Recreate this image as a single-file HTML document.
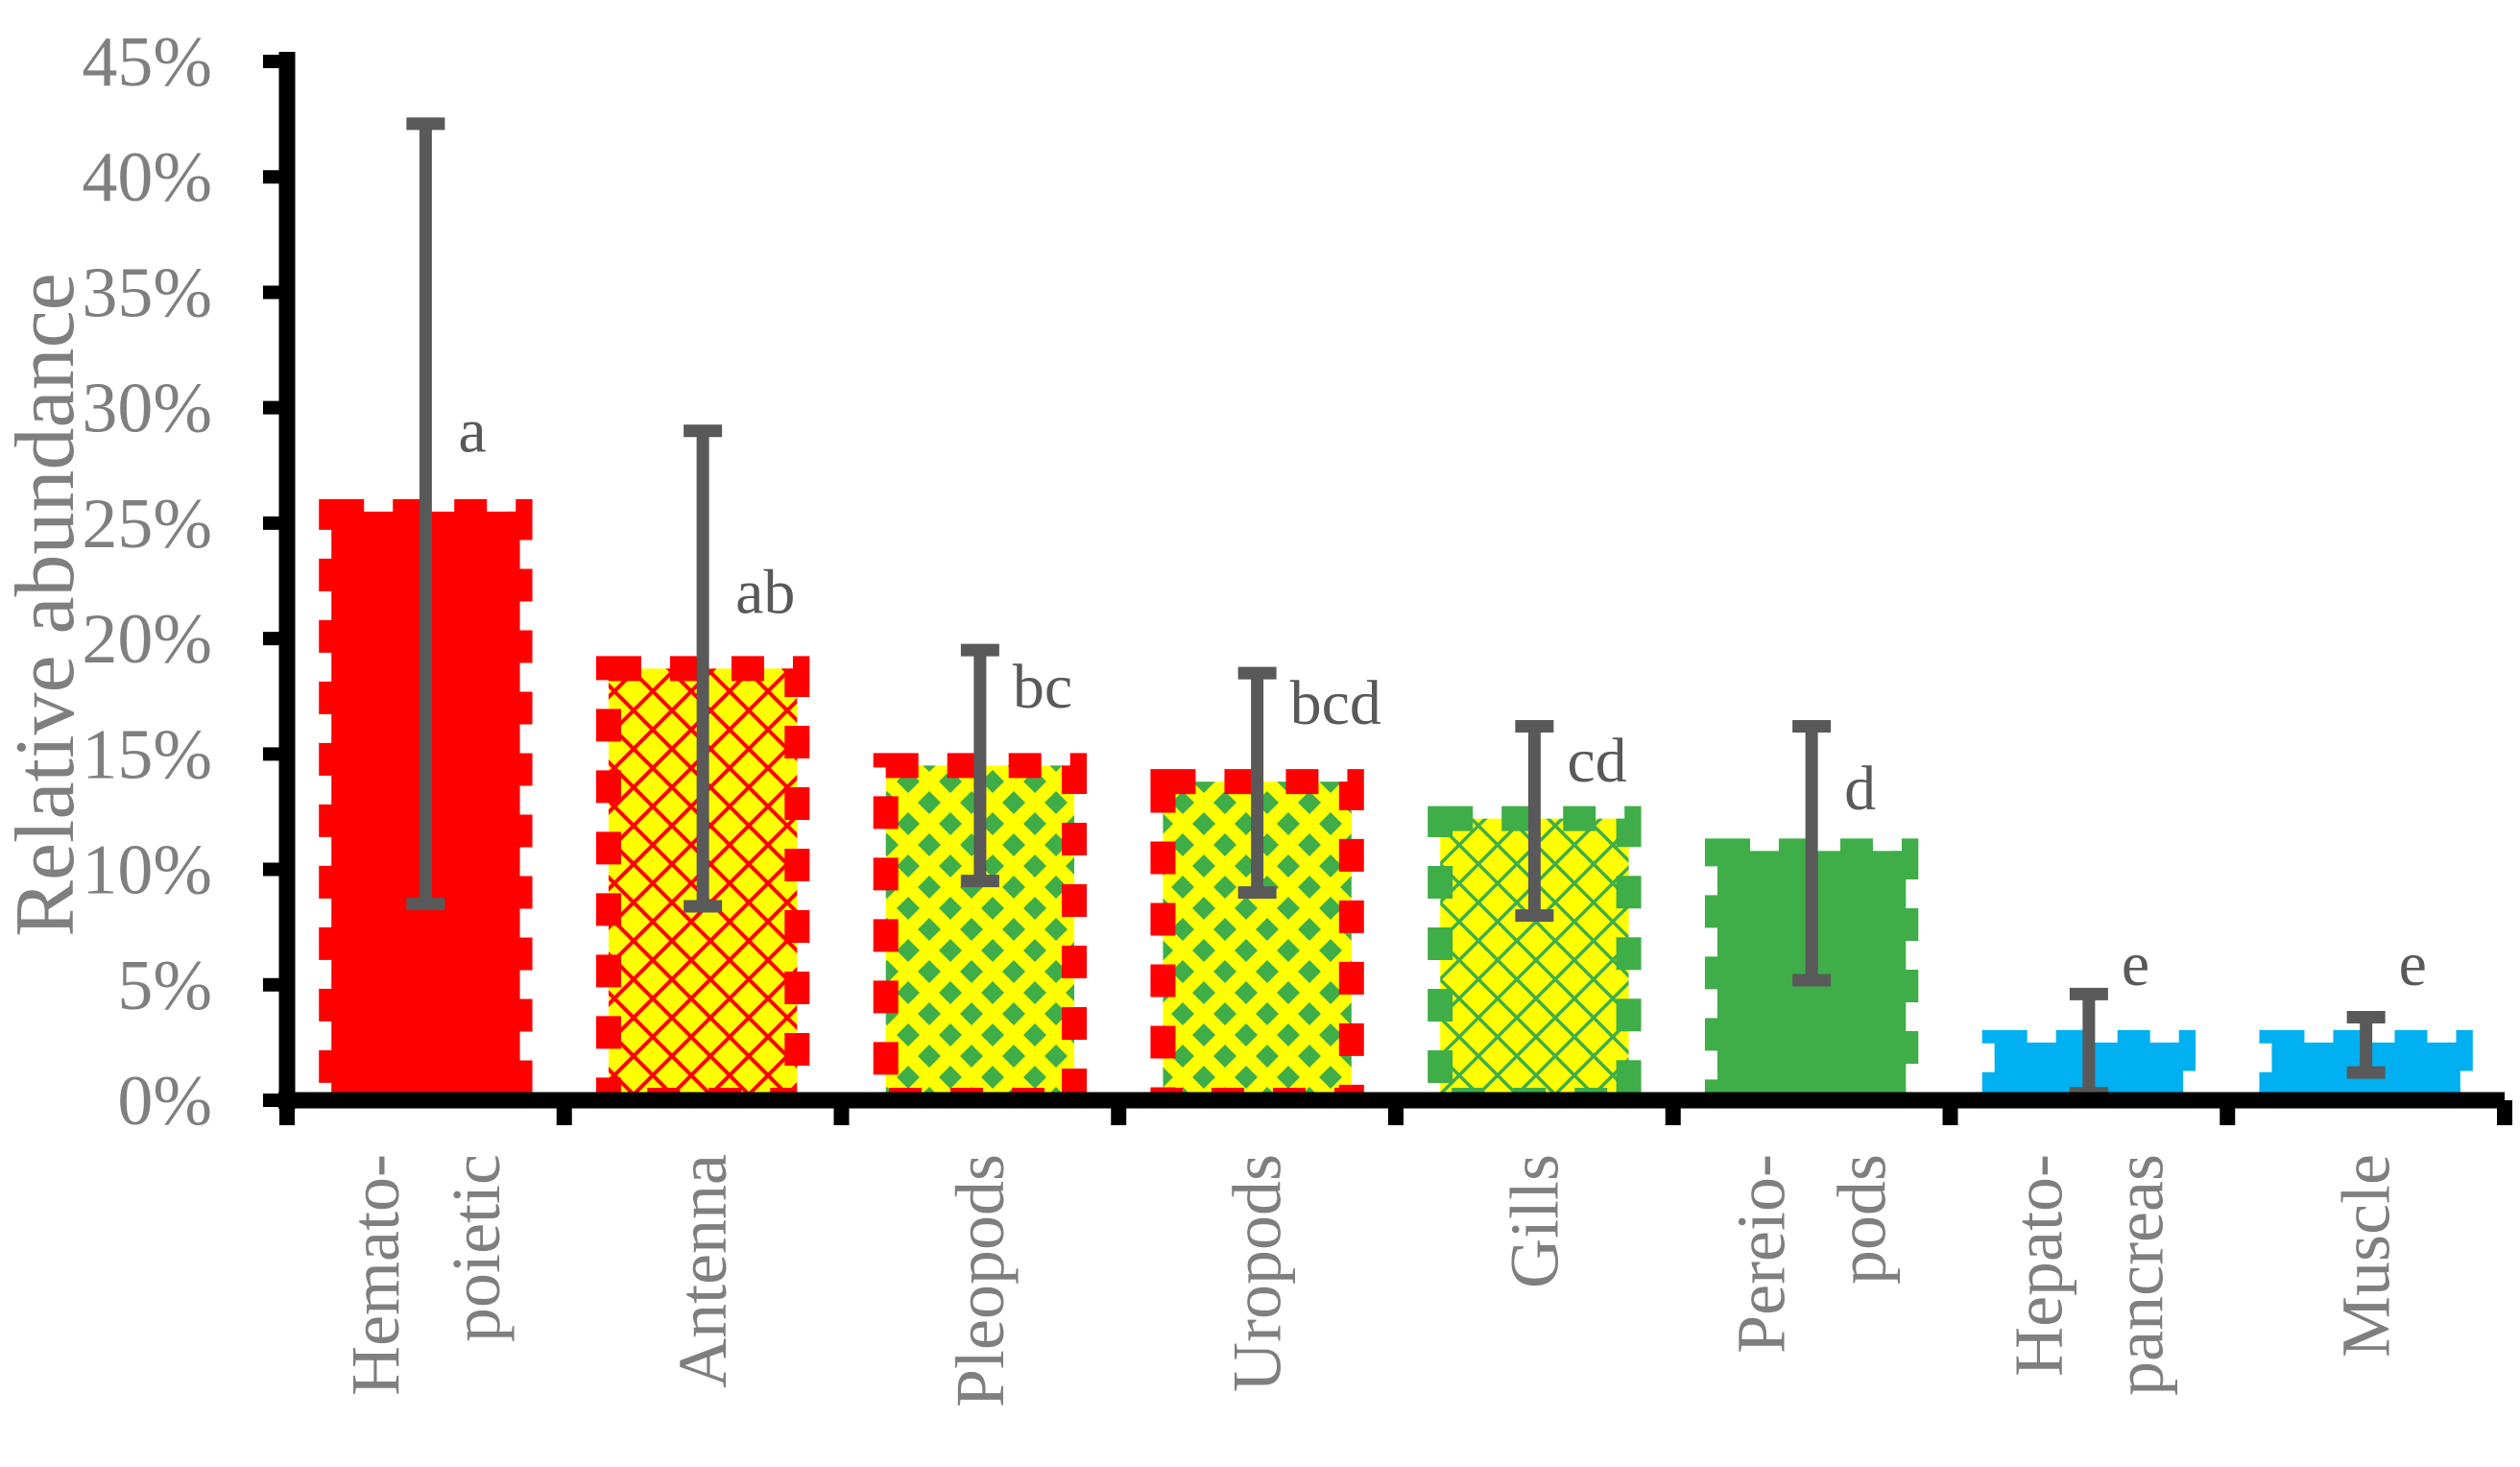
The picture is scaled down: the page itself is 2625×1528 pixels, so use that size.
<!DOCTYPE html>
<html><head><meta charset="utf-8"><style>
html,body{margin:0;padding:0;background:#fff;}
svg{display:block;font-family:"Liberation Serif",serif;}
</style></head><body>
<svg id="chart" width="2625" height="1528" viewBox="0 0 2625 1528" xmlns="http://www.w3.org/2000/svg">
<defs>
<pattern id="lattice-red" patternUnits="userSpaceOnUse" width="40" height="40">
<rect width="40" height="40" fill="#ffff00"/>
<path d="M0 0L40 40M40 0L0 40" stroke="#ff0000" stroke-width="4"/>
</pattern>
<pattern id="lattice-green" patternUnits="userSpaceOnUse" width="40" height="40">
<rect width="40" height="40" fill="#ffff00"/>
<path d="M0 0L40 40M40 0L0 40" stroke="#3fae49" stroke-width="3.5"/>
</pattern>
<pattern id="dots-green" patternUnits="userSpaceOnUse" width="44" height="44">
<rect width="44" height="44" fill="#ffff00"/>
<path d="M22 10L34 22L22 34L10 22Z" fill="#3fae49"/>
<path d="M0 -12L12 0L0 12L-12 0Z M44 -12L56 0L44 12L32 0Z M0 32L12 44L0 56L-12 44Z M44 32L56 44L44 56L32 44Z" fill="#3fae49"/>
</pattern>
<clipPath id="above-axis"><rect x="0" y="0" width="2625" height="1146"/></clipPath>
</defs>
<g id="plot"></g>
</svg>
<script>
const categories = [["Hemato-","poietic"],["Antenna"],["Pleopods"],["Uropods"],["Gills"],["Pereio-","pods"],["Hepato-","pancreas"],["Muscle"]];
const values = [25.5, 18.7, 14.5, 13.8, 12.2, 10.8, 2.5, 2.5];
const errHigh = [42.3, 29.0, 19.5, 18.5, 16.2, 16.2, 4.6, 3.6];
const errLow = [8.5, 8.4, 9.5, 9.0, 8.0, 5.2, 0.3, 1.2];
const letters = ["a","ab","bc","bcd","cd","d","e","e"];
const letterY = [28.1, 21.1, 17.0, 16.3, 13.8, 12.6, 5.0, 5.0];
const yTicks = [0,5,10,15,20,25,30,35,40,45];
const fills = ["#ff0000","url(#lattice-red)","url(#dots-green)","url(#dots-green)","url(#lattice-green)","#3fae49","#00b0f0","#00b0f0"];
const strokes = ["#ff0000","#ff0000","#ff0000","#ff0000","#3fae49","#3fae49","#00b0f0","#00b0f0"];

const NS="http://www.w3.org/2000/svg";
const g=document.getElementById('plot');
const X0=299, X1=2609, Y0=1146, Ytop=64, YMAX=45;
const band=(X1-X0)/categories.length;
const y=v=>Y0-(v/YMAX)*(Y0-Ytop);
const xc=i=>X0+band*(i+0.5);
function mk(tag,attrs,parent){const e=document.createElementNS(NS,tag);for(const k in attrs)e.setAttribute(k,attrs[k]);(parent||g).appendChild(e);return e;}

const barsG=mk('g',{'clip-path':'url(#above-axis)'});


values.forEach((v,i)=>{
  const w=band*0.68;
  const r=mk('rect',{x:xc(i)-w/2,y:y(v),width:w,height:Y0-y(v),fill:fills[i],stroke:strokes[i],'stroke-width':26,'stroke-dasharray':'34 30'},barsG);
  
  
});
values.forEach((v,i)=>{
  const eg=mk('g',{});
  
  
  const c=xc(i);
  mk('line',{x1:c,x2:c,y1:y(errHigh[i]),y2:y(errLow[i]),stroke:'#595959','stroke-width':13},eg);
  mk('line',{x1:c-20,x2:c+20,y1:y(errHigh[i]),y2:y(errHigh[i]),stroke:'#595959','stroke-width':13},eg);
  mk('line',{x1:c-20,x2:c+20,y1:y(errLow[i]),y2:y(errLow[i]),stroke:'#595959','stroke-width':13},eg);
  const t=mk('text',{x:c+34,y:y(letterY[i]),'font-size':66,fill:'#595959'});
  t.textContent=letters[i];
  
  
});
const ya=mk('line',{x1:X0,x2:X0,y1:Ytop-10,y2:Y0+9,stroke:'#000','stroke-width':17});


const xa=mk('line',{x1:X0-9,x2:X1,y1:Y0,y2:Y0,stroke:'#000','stroke-width':17});


yTicks.forEach(t=>{
  mk('line',{x1:X0-25,x2:X0,y1:y(t),y2:y(t),stroke:'#000','stroke-width':14});
  const tx=mk('text',{x:X0-78,y:y(t)+25,'font-size':74,fill:'#7f7f7f','text-anchor':'end'});
  tx.textContent=t+'%';
  
  
});
for(let i=0;i<=categories.length;i++){
  const x=X0+band*i;
  mk('line',{x1:x,x2:x,y1:Y0,y2:Y0+26,stroke:'#000','stroke-width':16});
}
categories.forEach((lines,i)=>{
  const c=xc(i);
  const n=lines.length;
  lines.forEach((s,j)=>{
    const off=(j-(n-1)/2)*105;
    const px=c+off+24;
    const t=mk('text',{x:px,y:1202,'font-size':72,fill:'#7f7f7f','text-anchor':'end',transform:`rotate(-90 ${px} 1202)`});
    t.textContent=s;
    
    
  });
});
const yt=mk('text',{x:76,y:630,'font-size':88,fill:'#7f7f7f','text-anchor':'middle',transform:'rotate(-90 76 630)'});
yt.textContent='Relative abundance';


</script>
</body></html>
